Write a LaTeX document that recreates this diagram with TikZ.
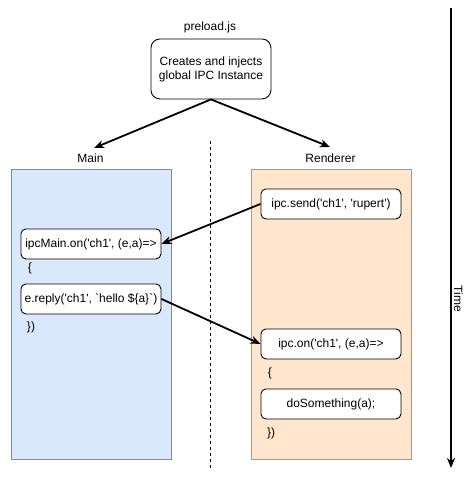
\documentclass[tikz,border=0pt]{standalone}
\usepackage{fontspec}
\setmainfont{Liberation Sans}[Ligatures=TeXOff]
\usetikzlibrary{arrows.meta}
\definecolor{mainfill}{HTML}{DAE8FC}
\definecolor{maindraw}{HTML}{6C8EBF}
\definecolor{rendfill}{HTML}{FFE6CC}
\definecolor{renddraw}{HTML}{D79B00}
\begin{document}
\begin{tikzpicture}[x=1pt,y=-1pt,
  every node/.style={font=\fontsize{12}{14}\selectfont, inner sep=0pt},
  codebox/.style={draw=black, fill=white, line width=0.9pt, rounded corners=5pt, minimum width=140pt, minimum height=30pt, anchor=north west},
  lane/.style={line width=0.9pt, minimum width=160pt, minimum height=290pt, anchor=north west},
  plain/.style={anchor=center},
  flow/.style={line width=1.8pt, -{Stealth[length=10pt,width=8pt,inset=3pt]}}]
\useasboundingbox (0,0) rectangle (471,477);
% lanes
\node[lane, draw=maindraw, fill=mainfill] (mainlane) at (10.5,168.5) {};
\node[lane, draw=renddraw, fill=rendfill] (rendlane) at (250.5,168.5) {};
\node[plain] (mainlbl) at (90.5,158) {Main};
\node[plain] (rendlbl) at (330.5,158) {Renderer};
% separator
\coordinate (septop) at (210.5,141);
\coordinate (sepbot) at (210.5,468);
\draw[line width=0.9pt, dash pattern=on 3pt off 3pt] (septop) -- (sepbot);
% preload
\node[plain] (prelbl) at (210,27) {preload.js};
\node[draw=black, fill=white, line width=0.9pt, rounded corners=9pt, minimum width=120pt, minimum height=60pt, align=center, anchor=north west] (preload) at (150.5,38.5) {Creates and injects\\global IPC Instance};
\coordinate (tomain) at (94,148);
\coordinate (torend) at (330,147);
\draw[flow] (preload.south) -- (tomain);
\draw[flow] (preload.south) -- (torend);
% main code
\node[codebox] (ipcmain) at (20.5,228.5) {ipcMain.on('ch1', (e,a)=>};
\node[plain] (brace1) at (30,268) {\{};
\node[codebox] (reply) at (20.5,283.5) {e.reply('ch1', `hello \$\{a\}`)};
\node[plain] (close1) at (31,327) {\})};
% renderer code
\node[codebox] (send) at (260.5,188.5) {ipc.send('ch1', 'rupert')};
\node[codebox] (ipcon) at (260.5,328.5) {ipc.on('ch1', (e,a)=>};
\node[plain] (brace2) at (270,373) {\{};
\node[codebox] (dosome) at (260.5,388.5) {doSomething(a);};
\node[plain] (close2) at (271,433) {\})};
% messages
\draw[flow] (send.west) -- (ipcmain.east);
\draw[flow] (reply.east) -- (ipcon.west);
% time
\coordinate (ttop) at (451,8);
\coordinate (tbot) at (451,468);
\draw[flow] (ttop) -- (tbot);
\node[plain, rotate=-90] (timelbl) at (458.5,299) {Time};
\end{tikzpicture}
\end{document}
